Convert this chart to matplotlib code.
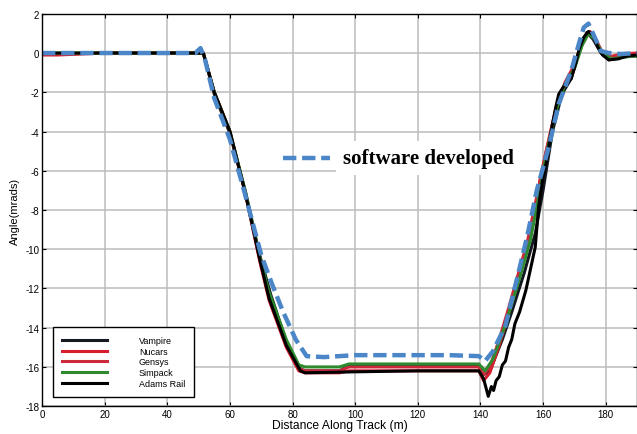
import numpy as np
import matplotlib.pyplot as plt

plt.rcParams['font.family'] = ['Liberation Sans', 'DejaVu Sans']
plt.rcParams['axes.unicode_minus'] = False

# Vampire (black)
vamp_x = [0, 5, 20, 50, 51.5, 55, 60, 65, 69.5, 73, 78, 82.5, 84, 95, 98, 120, 139.5, 141, 143,
          147, 150, 154, 157.5, 160, 163, 166, 169, 171.5, 174, 176, 178.5, 181, 185, 190]
vamp_y = [-0.08, -0.05, 0, 0, 0, -2.1, -4.1, -7.1, -10.3, -12.3, -14.7, -16.1, -16.2, -16.2, -15.95, -15.95,
          -15.95, -16.4, -16.2, -14.6, -13.2, -11.2, -9.2, -7.0, -4.0, -2.1, -1.3, 0.1, 1.05, 0.7, 0.0, -0.35,
          -0.2, -0.15]

# Nucars (red)
nuc_x = [0, 5, 20, 50, 51.5, 55, 60, 65, 69.5, 72.5, 78, 82, 84, 95, 98, 120, 139.5, 141, 143, 146, 149,
         152, 155, 157.5, 159, 161, 163, 165, 167, 169.5, 171.5, 173.5, 175, 177, 179, 181, 185, 190]
nuc_y = [-0.1, -0.1, 0, 0, 0, -2.0, -4.0, -7.2, -10.6, -12.6, -15.0, -16.2, -16.3, -16.3, -16.2, -16.2,
         -16.2, -16.7, -16.3, -14.9, -13.3, -11.6, -10.0, -8.2, -6.5, -5.0, -3.6, -2.3, -1.6, -1.0, 0.0, 0.9,
         1.1, 0.6, 0.0, -0.2, -0.05, 0.0]

# Gensys (red)
gen_x = [0, 20, 50, 51.5, 55, 60, 65, 69.5, 72.5, 78, 82, 84, 95, 98, 120, 139.5, 141, 143, 146, 149, 152,
         155, 158, 161, 164, 167, 170, 172, 174.5, 176.5, 179, 182, 186, 190]
gen_y = [-0.05, 0, 0, 0, -2.0, -4.0, -7.2, -10.5, -12.4, -14.8, -16.1, -16.2, -16.2, -16.0, -16.0,
         -16.0, -16.4, -16.0, -14.6, -13.0, -11.3, -9.6, -7.3, -5.0, -2.9, -1.5, -0.6, 0.3, 1.0, 0.8, 0.0,
         -0.2, -0.1, -0.05]

# Simpack (green)
sim_x = [0, 20, 50, 51.5, 55, 60, 65, 69.5, 72.5, 78, 82, 84, 95, 98, 120, 139.5, 141.5, 144, 147, 150,
         153, 156, 158.5, 161, 164, 167, 170, 172.5, 174.5, 176.5, 179, 182, 186, 190]
sim_y = [0, 0, 0, 0, -2.0, -4.0, -7.1, -10.4, -12.2, -14.6, -15.9, -16.0, -16.0, -15.85, -15.85, -15.85,
         -16.2, -15.6, -14.3, -12.8, -11.2, -9.5, -7.4, -5.2, -3.0, -1.6, -0.8, 0.4, 1.0, 0.7, -0.05,
         -0.3, -0.2, -0.15]

# Adams Rail (black)
adams_x = [0, 20, 50, 51.5, 55, 60, 65, 69.5, 72.5, 78, 82.5, 84, 100, 120, 139.5, 141, 142.5, 143.5,
           144.2, 145, 146, 147, 148, 149, 150, 151, 152.5, 154.5, 156, 157.5, 158.6, 160, 161, 162.8,
           164, 165, 167, 169, 170.5, 171.5, 173, 174.5, 176, 177.5, 179, 181, 184, 187, 190]
adams_y = [0, 0, 0, 0, -2.0, -4.0, -7.2, -10.5, -12.5, -14.9, -16.2, -16.3, -16.25, -16.2, -16.2, -16.6,
           -17.5, -17.0, -17.2, -16.7, -16.5, -15.9, -15.7, -15.0, -14.6, -13.8, -13.2, -12.1, -11.0, -9.9,
           -7.8, -6.3, -5.6, -3.8, -2.8, -2.1, -1.6, -1.3, -0.5, 0.2, 0.8, 1.1, 0.9, 0.3, -0.1, -0.35,
           -0.3, -0.15, -0.1]

# software developed (blue dashed)
soft_x = [0, 49, 50.6, 52, 55, 60, 65, 70, 73.5, 77, 81, 84.5, 90, 100, 110, 120, 130, 139.5, 141.5,
          144, 148, 152, 155, 158, 161.8, 165, 169, 171.5, 173, 174.5, 176.5, 178.5, 181, 185, 190]
soft_y = [0, 0, 0.25, -0.3, -2.3, -4.4, -7.3, -10.3, -11.8, -13.2, -14.6, -15.45, -15.5, -15.4, -15.4,
          -15.4, -15.4, -15.45, -15.7, -15.2, -13.9, -11.3, -9.3, -7.0, -4.8, -2.6, -0.9, 0.5, 1.3, 1.5,
          0.8, 0.1, 0.0, -0.05, 0.0]

fig = plt.figure(figsize=(6.37, 4.35), dpi=100)
ax = fig.add_axes([0.066, 0.064, 0.934, 0.902])

dash = (0, (3, 1.3))
ax.plot(vamp_x, vamp_y, color='#141820', lw=2.2, label='Vampire')
ax.plot(nuc_x, nuc_y, color='#d81e2c', lw=2.2, label='Nucars')
ax.plot(gen_x, gen_y, color='#cc2a3c', lw=2.2, label='Gensys')
ax.plot(sim_x, sim_y, color='#2e8a2e', lw=2.2, label='Simpack')
ax.plot(adams_x, adams_y, color='#000000', lw=2.2, label='Adams Rail')
ax.plot(soft_x, soft_y, color='#4a86c8', lw=3.2, ls=dash)

ax.set_xlim(0, 190)
ax.set_ylim(-18, 2)
ax.set_xticks(np.arange(0, 181, 20))
ax.set_yticks(np.arange(-18, 3, 2))
ax.grid(True, color='#bcbcbc', lw=1.1)
ax.tick_params(direction='in', length=3, labelsize=7, top=True, right=True, pad=2)
for s in ax.spines.values():
    s.set_linewidth(1.0)
ax.set_xlabel('Distance Along Track (m)', fontsize=8.7, labelpad=0)
ax.set_ylabel('Angle(mrads)', fontsize=8, labelpad=4)

ax.legend(loc='lower left', bbox_to_anchor=(0.0185, 0.023), borderaxespad=0, fontsize=6.5,
          handlelength=5.0, handletextpad=3.5, labelspacing=0.2, frameon=True, fancybox=False,
          edgecolor='black', framealpha=1, borderpad=1.0)

ax.plot([77, 92], [-5.35, -5.35], color='#4a86c8', lw=3.2, ls=dash)
ax.text(96, -5.35, 'software developed', family=['Liberation Serif', 'DejaVu Serif'], weight='bold',
        fontsize=15, va='center', ha='left',
        bbox=dict(facecolor='white', edgecolor='none', pad=5))

fig.savefig('out.png', dpi=100)
